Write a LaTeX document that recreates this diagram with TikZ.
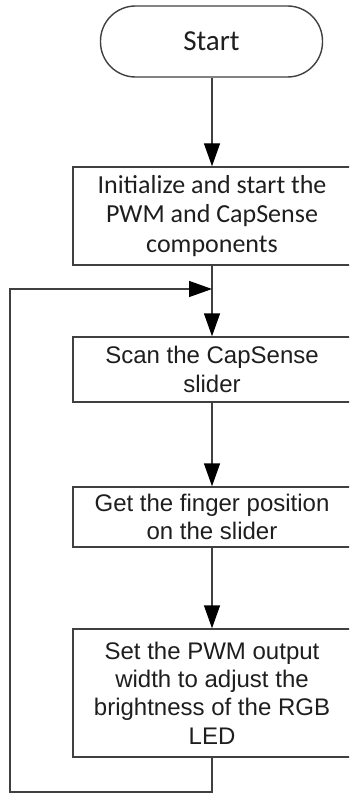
\documentclass[tikz,border=0pt]{standalone}
\usepackage{fontspec}
\setmainfont{Liberation Sans}
\newfontfamily\calib{Carlito}
\usetikzlibrary{arrows.meta}
\definecolor{linegray}{HTML}{404040}
\definecolor{txt}{HTML}{1E1E1E}
\begin{document}
\begin{tikzpicture}[x=1pt,y=-1pt,
  line/.style={draw=linegray, line width=1.4pt},
  arr/.style={line, -{Triangle[length=23pt,width=16pt,color=black,fill=black]}},
  boxnode/.style={draw=linegray, line width=1.4pt, minimum width=278pt, inner sep=0pt,
    align=center, text=txt, font=\fontsize{24}{28.3}\selectfont},
  term/.style={draw=linegray, line width=1.4pt, minimum width=222pt, minimum height=71pt,
    rounded corners=35pt, inner sep=0pt, text=txt, font=\calib\fontsize{29}{32}\selectfont}
]
\useasboundingbox (0,0) rectangle (349,794);
\clip (0,0) rectangle (349,794);
\node[term] (start) at (211.5,41.5) {Start};
\node[boxnode, minimum height=98pt, font=\calib\fontsize{26}{29.5}\selectfont] (init) at (212,216)
  {Initialize and start the\\PWM and CapSense\\components};
\node[boxnode, minimum height=65pt] (scan) at (212,369.5) {Scan the CapSense\\slider};
\node[boxnode, minimum height=60pt] (get) at (212,517) {Get the finger position\\on the slider};
\node[boxnode, minimum height=128pt] (setbox) at (212,693)
  {Set the PWM output\\width to adjust the\\brightness of the RGB\\LED};
\coordinate (join) at (212,289);
\coordinate (bl) at (10,792);
\coordinate (tl) at (10,289);
\draw[arr] (start.south -| init.north) -- (init.north);
\draw[line] (init.south) -- (join);
\draw[arr] (join) -- (scan.north);
\draw[arr] (scan) -- (get);
\draw[arr] (get) -- (setbox);
\draw[arr] (setbox.south) |- (bl) -- (tl) -- (join);
\end{tikzpicture}
\end{document}
